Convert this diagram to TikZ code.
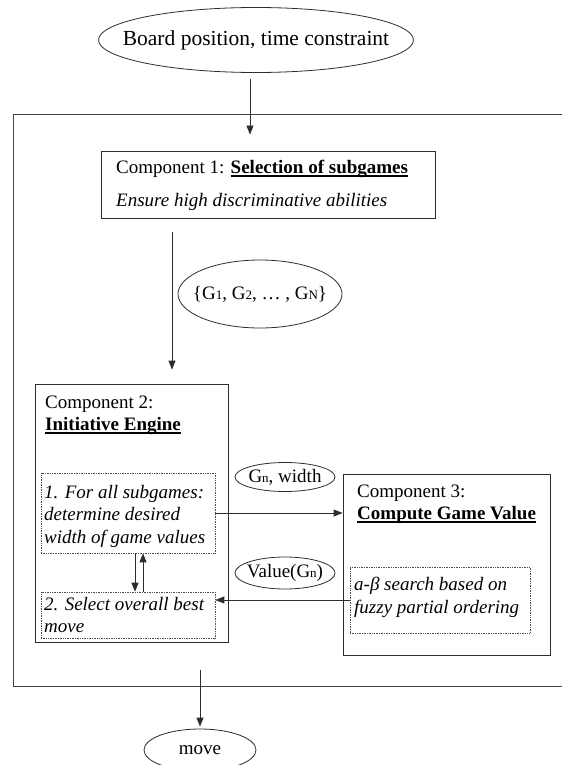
\documentclass[tikz,border=0pt]{standalone}
\usepackage{fontspec}
\setmainfont{Liberation Serif}
\usetikzlibrary{arrows.meta,positioning,shapes.geometric,calc}
\definecolor{ln}{RGB}{45,45,45}
\newsavebox{\hdbox}
\newcommand{\hd}[1]{\sbox{\hdbox}{\textbf{#1}}\rlap{\usebox{\hdbox}}\rule[-3pt]{\wd\hdbox}{1.3pt}}
\newcommand{\sbs}[1]{{\fontsize{13}{13}\selectfont #1}}
\newcommand{\ov}[1]{\makebox[0pt]{#1}}

\begin{document}
\begin{tikzpicture}[x=1pt, y=-1pt,
    >={Triangle[length=9pt,width=7pt]},
    font=\fontsize{19}{22}\selectfont,
    oval/.style={ellipse, draw=ln, line width=0.8pt, inner sep=0pt},
    box/.style={draw=ln, line width=0.8pt, inner sep=0pt},
    dbox/.style={draw=ln!85, densely dotted, line width=0.7pt, inner sep=0pt},
    txt/.style={anchor=north west, align=left, inner sep=0pt},
    flow/.style={->, draw=ln, line width=0.8pt}
  ]
  \useasboundingbox (0,0) rectangle (562,765);

  % outer frame, open on the right
  \draw[ln!90, line width=1pt] (562,115) -- (13,115) -- (13,686) -- (562,686);

  \node[oval, minimum width=315pt, minimum height=65pt, font=\fontsize{21.5}{24}\selectfont] (inp) at (256,40) {\ov{Board position, time constraint}};

  % component 1
  \node[box, minimum width=334pt, minimum height=67pt] (comp1) at (268,184.5) {};
  \node[txt] (c1t) at (116,160) {Component 1: \hd{Selection of subgames}\\[11pt]\textit{Ensure high discriminative abilities}};

  \node[oval, minimum width=164pt, minimum height=68pt] (gset) at (260,294) {\ov{\{G\sbs{1}, G\sbs{2}, … , G\sbs{N}\}}};

  % component 2
  \node[box, minimum width=193pt, minimum height=258pt] (comp2) at (131.5,513) {};
  \node[txt] (c2t) at (45,396) {Component 2:\\\hd{Initiative Engine}};
  \node[dbox, minimum width=174pt, minimum height=80pt] (d1) at (128,513) {};
  \node[txt, font=\fontsize{19}{22.5}\selectfont\itshape] (d1t) at (44,485) {1. For all subgames:\\determine desired\\width of game values};
  \node[dbox, minimum width=174pt, minimum height=46pt] (d2) at (128,615) {};
  \node[txt, font=\fontsize{19}{22}\selectfont\itshape] (d2t) at (44,597) {2. Select overall best\\move};

  % component 3
  \node[box, minimum width=207pt, minimum height=181pt] (comp3) at (446.5,564.5) {};
  \node[txt] (c3t) at (357,485) {Component 3:\\\hd{Compute Game Value}};
  \node[dbox, minimum width=180pt, minimum height=66pt] (d3) at (440,600) {};
  \node[txt, font=\fontsize{19}{23}\selectfont\itshape] (d3t) at (354,577) {a-β search based on\\fuzzy partial ordering};

  \node[oval, minimum width=100pt, minimum height=29pt] (gw) at (285,477) {\ov{G\sbs{n}, width}};
  \node[oval, minimum width=100pt, minimum height=32pt] (val) at (285,573) {\ov{Value(G\sbs{n})}};

  \node[oval, minimum width=112pt, minimum height=42pt] (out) at (200,750) {\ov{move}};

  \coordinate (s1) at (172,232);
  \coordinate (s2) at (200,670);

  \draw[flow, shorten <=6pt, shorten >=16pt] (inp.south -| 250,0) -- (250,0 |- comp1.north);
  \draw[flow, shorten >=14pt] (s1) -- (s1 |- comp2.north);
  \draw[flow] (d1.east) -- (d1.east -| comp3.west);
  \draw[flow] (d3.west) -- (d3.west -| d2.east);
  \draw[flow] ([xshift=7pt]d1.south) -- ([xshift=7pt]d2.north);
  \draw[flow] ([xshift=15pt]d2.north) -- ([xshift=15pt]d1.south);
  \draw[flow, shorten >=2pt] (s2) -- (s2 |- out.north);
\end{tikzpicture}
\end{document}
